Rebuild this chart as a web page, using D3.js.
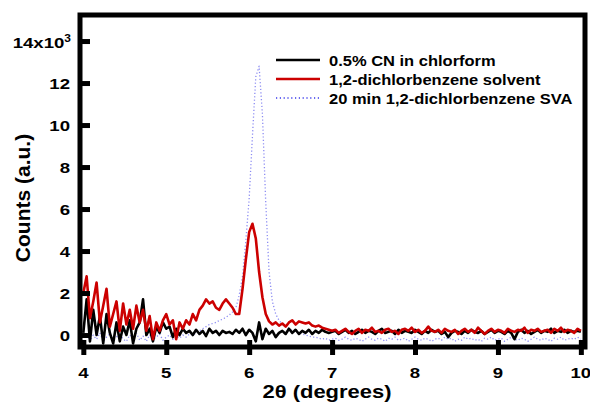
<!DOCTYPE html>
<html>
<head>
<meta charset="utf-8">
<script src="https://cdn.jsdelivr.net/npm/d3@7/dist/d3.min.js"></script>
<style>
  body { margin: 0; background: #fff; }
  text { font-family: "Liberation Sans", Arial, sans-serif; font-weight: bold; fill: #000; }
</style>
</head>
<body>
<div id="chart"></div>
<script>
// 2theta sampling: start 4.00, step 0.04 deg (151 points)
const thetaStart = 4, thetaStep = 0.04;

// counts in thousands
const cnChloroform = [
  0.1, 1.7, -0.3, 1.2, 0.0, 0.9, -0.4, 1.0, 0.1, -0.4,
  0.6, -0.3, 0.4, 0.0, 0.7, -0.4, 0.3, 0.6, 1.7, 0.0,
  0.3, -0.3, 0.4, 0.1, 0.6, 0.3, 0.4, -0.1, 0.3, 0.0,
  0.3, 0.1, 0.2, 0.0, 0.25, 0.05, 0.2, -0.05, 0.3, 0.1,
  0.2, 0.0, 0.2, 0.1, 0.15, 0.05, 0.25, 0.1, 0.3, 0.0,
  0.25, 0.1, -0.3, 0.6, -0.2, 0.3, 0.05, 0.2, -0.1, 0.1,
  0.2, 0.05, 0.3, 0.1, 0.25, 0.05, 0.2, 0.1, 0.25, 0.05,
  0.2, 0.1, 0.25, 0.15, 0.1, 0.15, 0.2, 0.05, 0.15, 0.25,
  0.1, 0.2, 0.05, 0.15, 0.25, 0.1, 0.2, 0.15, 0.05, 0.2,
  0.3, 0.1, 0.15, 0.2, 0.05, 0.25, 0.1, 0.2, 0.15, 0.1,
  0.25, 0.15, 0.05, 0.2, 0.1, 0.25, 0.15, 0.2, 0.05, 0.15,
  -0.1, 0.1, 0.2, 0.15, 0.05, 0.2, 0.1, 0.25, 0.15, 0.1,
  0.2, 0.05, 0.15, 0.25, 0.1, 0.2, 0.15, 0.05, 0.2, 0.1,
  -0.2, 0.15, 0.25, 0.1, 0.2, 0.05, 0.15, 0.25, 0.1, 0.2,
  0.15, 0.3, 0.1, 0.2, 0.15, 0.25, 0.1, 0.2, 0.15, 0.2,
  0.15
];
const dcbSolvent = [
  2.0, 2.8, 0.8, 1.6, 2.5, 0.6, 1.4, 2.2, 0.4, 1.0,
  1.6, 0.2, 1.5, 0.5, 1.2, 0.3, 1.4, 0.6, 1.2, 0.2,
  0.9, -0.2, 0.6, 0.2, 0.7, 1.0, 0.5, 0.7, -0.2, 0.6,
  0.3, 0.7, 0.5, 1.0, 0.7, 1.2, 1.4, 1.7, 1.5, 1.6,
  1.3, 1.2, 1.5, 1.7, 1.5, 1.3, 1.0, 1.0, 2.2, 3.6,
  4.9, 5.3, 4.6, 3.0, 1.8, 1.0, 0.65, 0.5, 0.6, 0.45,
  0.55, 0.4, 0.6, 0.7, 0.5, 0.65, 0.6, 0.55, 0.6, 0.45,
  0.4, 0.45, 0.35, 0.3, 0.25, 0.2, 0.25, 0.1, 0.2, 0.3,
  0.15, 0.05, 0.2, 0.3, 0.1, 0.25, 0.2, 0.35, 0.15, 0.2,
  0.1, 0.25, 0.3, 0.15, 0.2, 0.05, 0.25, 0.3, 0.2, 0.35,
  0.15, 0.25, 0.1, 0.2, 0.4, 0.2, 0.15, 0.25, 0.1, 0.3,
  0.2, 0.15, 0.25, 0.05, 0.2, 0.3, 0.15, 0.25, 0.1, 0.35,
  0.2, 0.05, 0.2, 0.3, 0.15, 0.25, 0.2, 0.1, 0.3, 0.2,
  0.15, 0.25, 0.2, 0.35, 0.1, 0.25, 0.2, 0.3, 0.15, 0.2,
  0.25, 0.1, 0.3, 0.2, 0.35, 0.15, 0.25, 0.2, 0.1, 0.3,
  0.2
];
const dcbSva = [
  -0.1, 0.1, -0.3, 0.0, -0.2, 0.1, -0.3, -0.1, 0.05, -0.25,
  -0.1, 0.1, -0.2, -0.3, 0.0, -0.15, 0.1, -0.25, -0.05, -0.3,
  0.0, -0.2, -0.1, 0.05, -0.25, -0.1, 0.0, -0.2, -0.05, -0.15,
  0.0, -0.1, 0.05, 0.0, 0.1, 0.2, 0.3, 0.4, 0.5, 0.55,
  0.6, 0.7, 0.75, 0.85, 0.95, 1.1, 1.3, 1.9, 2.8, 4.5,
  6.5, 9.5, 12.3, 12.8, 10.5, 6.3, 3.0, 1.6, 1.0, 0.7,
  0.5, 0.4, 0.3, 0.2, 0.15, 0.1, 0.05, 0.0, -0.05, -0.1,
  -0.1, -0.15, -0.2, -0.15, -0.25, -0.2, -0.15, -0.25, -0.2, -0.1,
  -0.2, -0.25, -0.15, -0.2, -0.3, -0.2, -0.1, -0.2, -0.25, -0.15,
  -0.2, -0.3, -0.15, -0.2, -0.1, -0.25, -0.2, -0.15, -0.3, -0.2,
  -0.1, -0.2, -0.25, -0.15, -0.2, -0.3, -0.2, -0.15, -0.25, -0.1,
  -0.2, -0.15, -0.3, -0.2, -0.25, -0.1, -0.2, -0.15, -0.25, -0.2,
  -0.3, -0.15, -0.2, -0.1, -0.25, -0.2, -0.15, -0.3, -0.2, -0.1,
  -0.2, -0.25, -0.15, -0.2, -0.3, -0.2, -0.1, -0.2, -0.25, -0.15,
  -0.2, -0.3, -0.15, -0.2, -0.1, -0.25, -0.2, -0.15, -0.2, -0.1,
  -0.2
];

const xTicks = [4, 5, 6, 7, 8, 9, 10];
const yTicks = [0, 2, 4, 6, 8, 10, 12, 14];
const seriesNames = ["0.5% CN in chlorform", "1,2-dichlorbenzene solvent", "20 min 1,2-dichlorbenzene SVA"];

const W = 590, H = 414;
const plot = {left: 80, right: 585, top: 15, bottom: 347};

const svg = d3.select("#chart").append("svg")
  .attr("width", W).attr("height", H);

const x = d3.scaleLinear().domain([3.96, 10.05]).range([plot.left, plot.right]);
const y = d3.scaleLinear().domain([-0.57, 15.24]).range([plot.bottom, plot.top]);

svg.append("defs").append("clipPath").attr("id", "clip")
  .append("rect")
  .attr("x", plot.left).attr("y", plot.top)
  .attr("width", plot.right - plot.left).attr("height", plot.bottom - plot.top);

const toPoints = arr => arr.map((v, i) => [thetaStart + i * thetaStep, v]);
const line = d3.line().x(d => x(d[0])).y(d => y(d[1]));

const series = [
  {name: seriesNames[0], data: cnChloroform, color: "#000", width: 2.6, dash: null},
  {name: seriesNames[1], data: dcbSolvent, color: "#cc0000", width: 2.6, dash: null},
  {name: seriesNames[2], data: dcbSva, color: "#8c8cf2", width: 1.3, dash: "1.2,2.2"}
];

const g = svg.append("g").attr("clip-path", "url(#clip)");
// blue first so it sits underneath
[series[2], series[0], series[1]].forEach(s => {
  g.append("path")
    .datum(toPoints(s.data))
    .attr("d", line)
    .attr("fill", "none")
    .attr("stroke", s.color)
    .attr("stroke-width", s.width)
    .attr("stroke-linejoin", "round")
    .attr("stroke-dasharray", s.dash);
});

// frame
svg.append("rect")
  .attr("x", plot.left).attr("y", plot.top)
  .attr("width", plot.right - plot.left).attr("height", plot.bottom - plot.top)
  .attr("fill", "none").attr("stroke", "#000").attr("stroke-width", 5);

// text that is a bit wider than the font (the original looks stretched)
function label(px, py, sx, size, anchor) {
  return svg.append("g")
    .attr("transform", `translate(${px},${py}) scale(${sx},1)`)
    .append("text")
    .attr("text-anchor", anchor)
    .style("font-size", size + "px");
}

// y axis (ticks inward)
svg.append("g")
  .attr("transform", `translate(${plot.left},0)`)
  .call(d3.axisLeft(y).tickValues(yTicks).tickSize(-10).tickFormat(""))
  .call(ax => ax.select(".domain").remove())
  .call(ax => ax.selectAll(".tick line").attr("stroke-width", 5).attr("x1", 0));

yTicks.forEach(t => {
  if (t === 14) {
    const lbl = label(71, y(t) + 6.5, 1.2, 15.5, "end");
    lbl.append("tspan").text("14x10");
    lbl.append("tspan").text("3").attr("dy", "-0.6em").style("font-size", "10px");
  } else {
    label(70, y(t) + 5.5, 1.2, 15.5, "end").text(t);
  }
});

// x axis (ticks crossing the line)
svg.append("g")
  .attr("transform", `translate(0,${plot.bottom})`)
  .call(d3.axisBottom(x).tickValues(xTicks).tickSize(8).tickFormat(""))
  .call(ax => ax.select(".domain").remove())
  .call(ax => ax.selectAll(".tick line").attr("stroke-width", 5).attr("y1", -7));

xTicks.forEach(t => {
  label(x(t), 378, 1.2, 15.5, "middle").text(t);
});

// axis titles
label(327, 398, 1.22, 18, "middle").text("2θ (degrees)");

svg.append("text")
  .attr("transform", "translate(30,198) rotate(-90)")
  .attr("text-anchor", "middle").style("font-size", "21px")
  .text("Counts (a.u.)");

// legend
series.forEach((s, i) => {
  const ly = 60 + i * 19;
  svg.append("line")
    .attr("x1", 276).attr("x2", 320).attr("y1", ly).attr("y2", ly)
    .attr("stroke", i === 2 ? "#6a6af0" : s.color)
    .attr("stroke-width", i === 2 ? 2 : 2.6)
    .attr("stroke-dasharray", i === 2 ? "1.2,2.6" : null);
  label(329, ly + 6, 1.1, 15, "start").text(s.name);
});
</script>
</body>
</html>
